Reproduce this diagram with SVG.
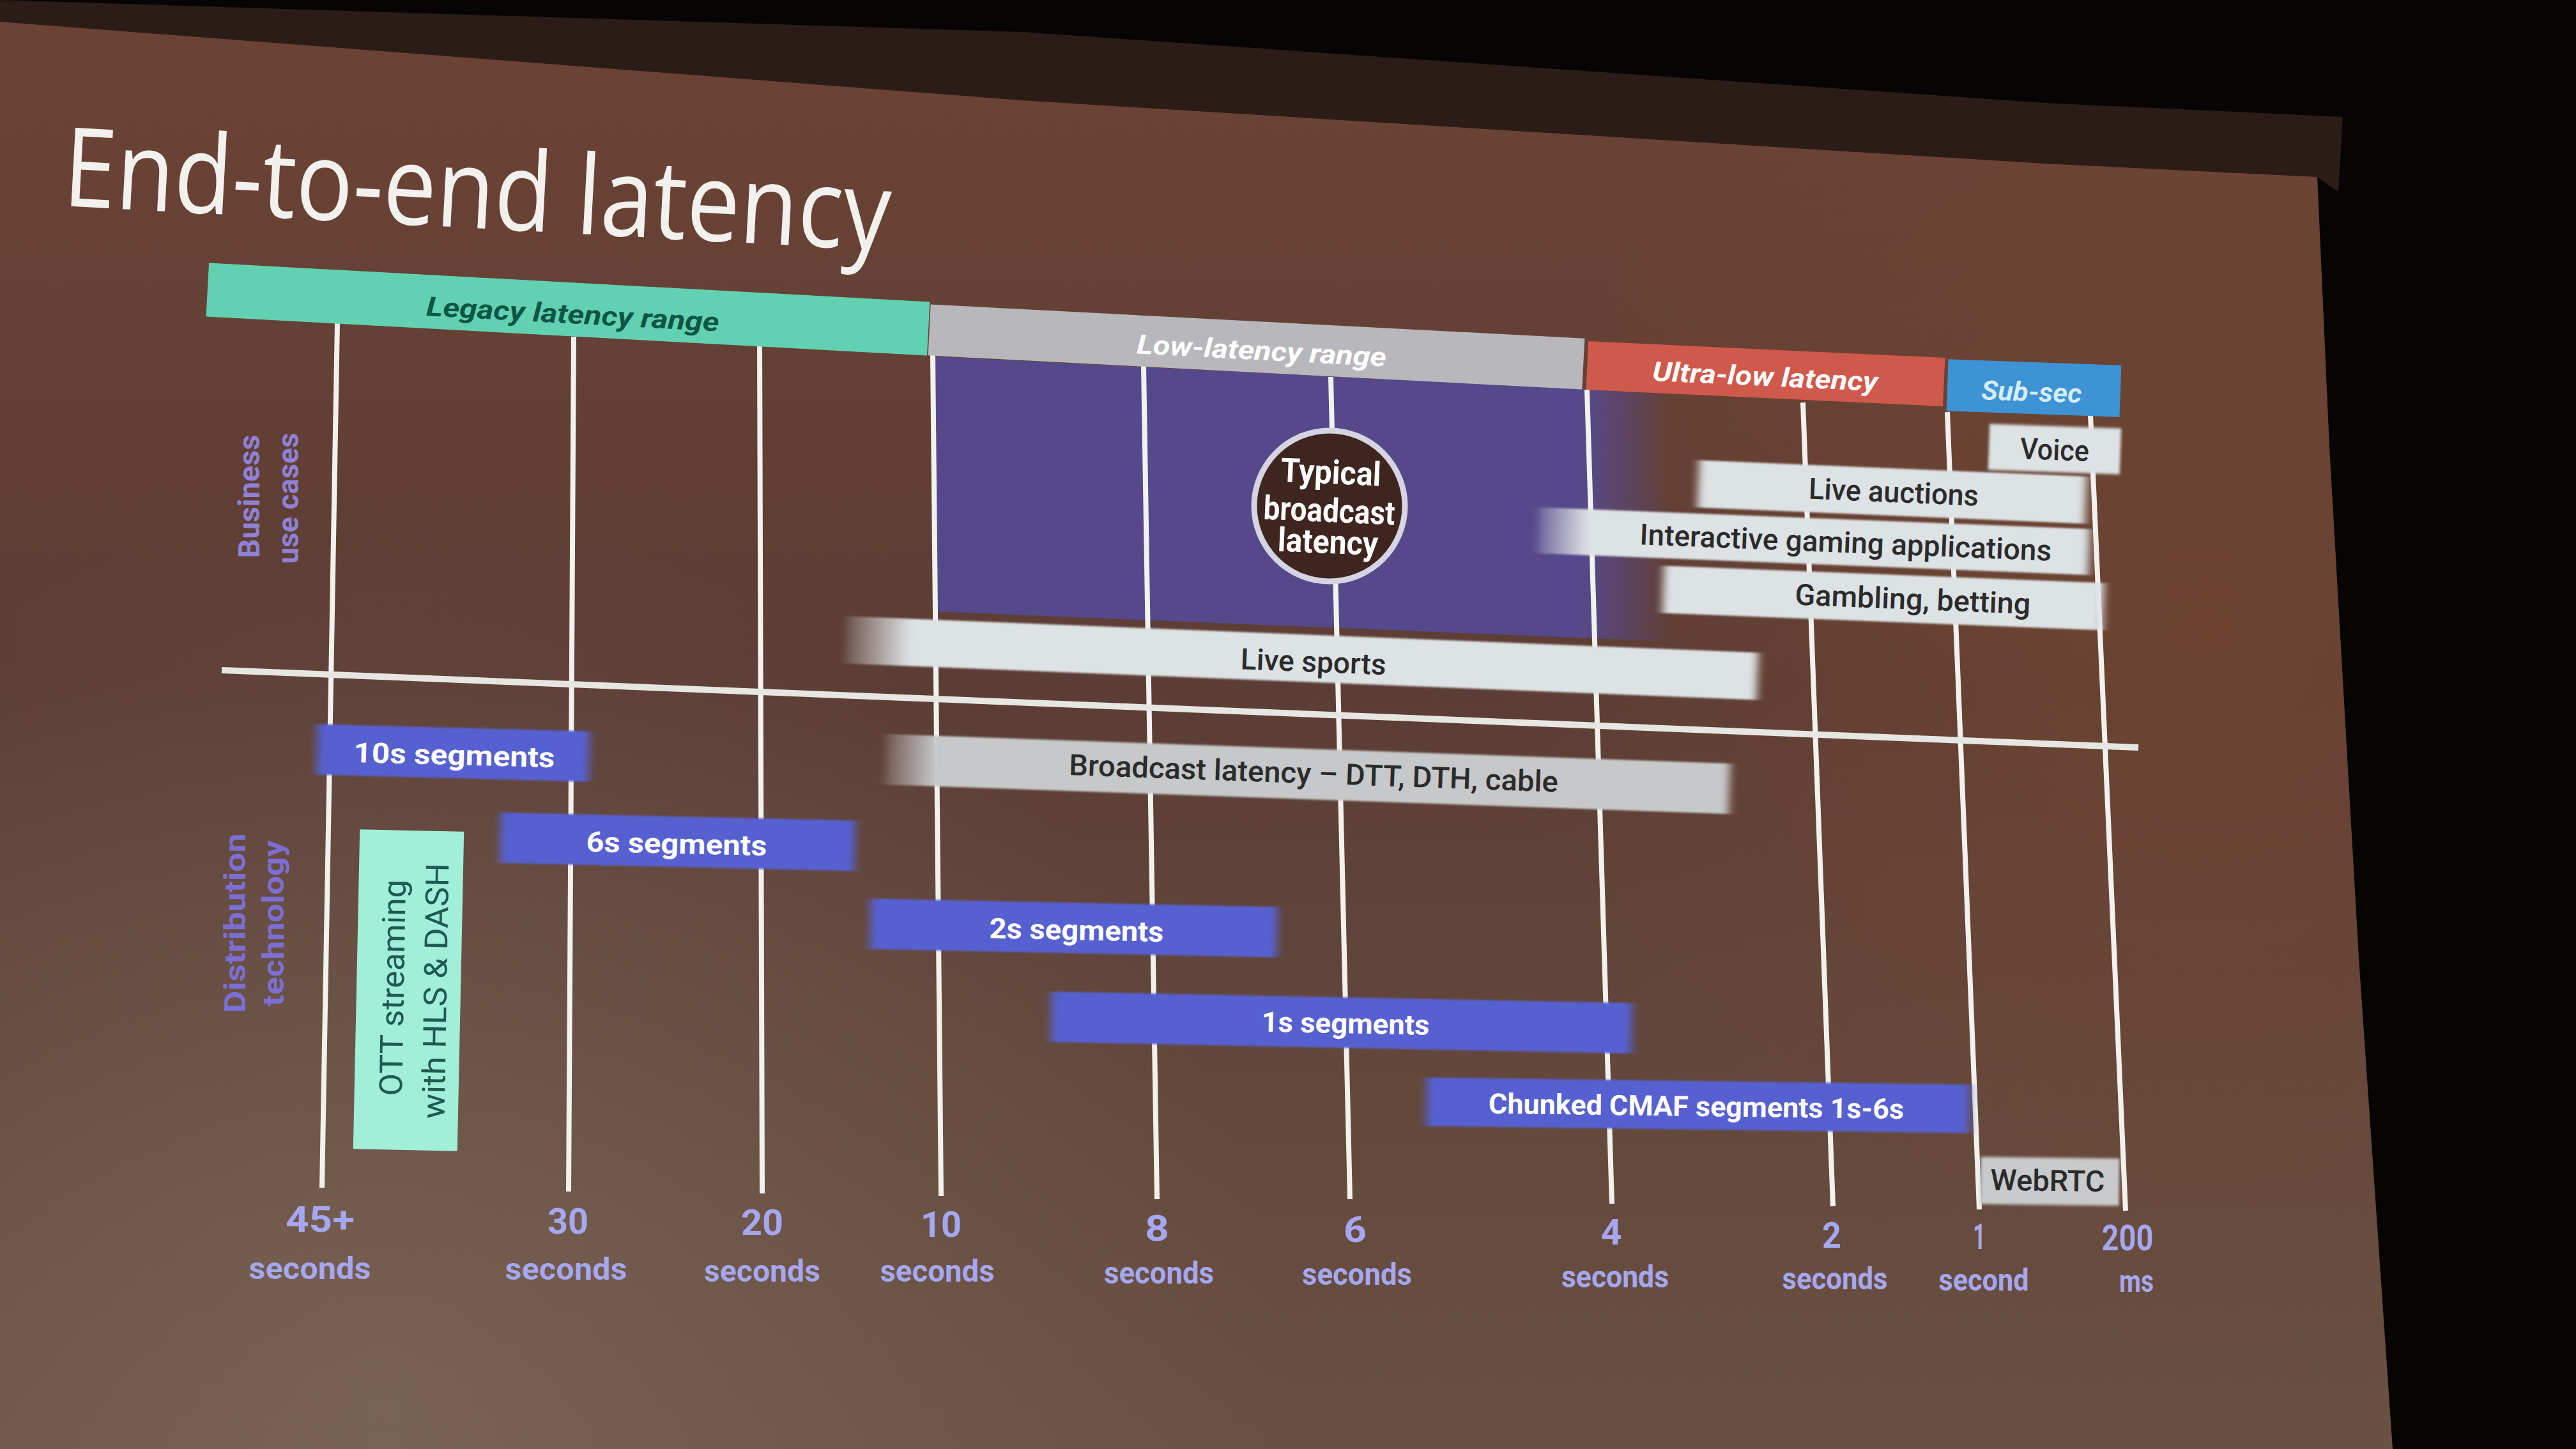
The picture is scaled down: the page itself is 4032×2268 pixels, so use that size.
<svg xmlns="http://www.w3.org/2000/svg" width="4032" height="2268" viewBox="0 0 4032 2268">
<defs>
<linearGradient id="screenG" gradientUnits="userSpaceOnUse" x1="0" y1="100" x2="0" y2="2268">
<stop offset="0" stop-color="#6b4335"/>
<stop offset="0.45" stop-color="#5c3d35"/>
<stop offset="1" stop-color="#6a5142"/>
</linearGradient>
<radialGradient id="glowBL" gradientUnits="userSpaceOnUse" cx="600" cy="2200" r="1400">
<stop offset="0" stop-color="#8a7868" stop-opacity="0.45"/>
<stop offset="1" stop-color="#8a7868" stop-opacity="0"/>
</radialGradient>
<radialGradient id="warmR" gradientUnits="userSpaceOnUse" cx="3450" cy="1000" r="1100">
<stop offset="0" stop-color="#7c4a2e" stop-opacity="0.5"/>
<stop offset="1" stop-color="#7c4a2e" stop-opacity="0"/>
</radialGradient>
<linearGradient id="purpleG" gradientUnits="userSpaceOnUse" x1="1460" y1="0" x2="2615" y2="0">
<stop offset="0" stop-color="#56498b"/>
<stop offset="0.88" stop-color="#56498b"/>
<stop offset="1" stop-color="#56498b" stop-opacity="0"/>
</linearGradient>
<linearGradient id="fadeLight" x1="0" y1="0" x2="1" y2="0">
<stop offset="0" stop-color="#dde2e5" stop-opacity="0.15"/>
<stop offset="0.07" stop-color="#dde2e5" stop-opacity="1"/>
<stop offset="1" stop-color="#dde2e5" stop-opacity="1"/>
</linearGradient>
<linearGradient id="fadeLightI" x1="0" y1="0" x2="1" y2="0">
<stop offset="0" stop-color="#dde2e5" stop-opacity="0.2"/>
<stop offset="0.09" stop-color="#dde2e5" stop-opacity="1"/>
<stop offset="1" stop-color="#dde2e5" stop-opacity="1"/>
</linearGradient>
<linearGradient id="fadeGray" x1="0" y1="0" x2="1" y2="0">
<stop offset="0" stop-color="#c6c8c9" stop-opacity="0.2"/>
<stop offset="0.06" stop-color="#c6c8c9" stop-opacity="1"/>
<stop offset="1" stop-color="#c6c8c9" stop-opacity="1"/>
</linearGradient>
<filter id="soft" x="-15%" y="-30%" width="130%" height="160%">
<feGaussianBlur stdDeviation="7 1.5"/>
</filter>
<filter id="soft2" x="-5%" y="-30%" width="110%" height="160%">
<feGaussianBlur stdDeviation="2"/>
</filter>
</defs>
<style>
.grid{stroke:#f1f1ee;stroke-width:8;fill:none}
.divider{stroke:#e6e6e2;stroke-width:10;fill:none}
.t{font-family:Roboto,"Liberation Sans",sans-serif;text-anchor:middle}
.hdr{font-style:italic;font-weight:700;font-size:42px}
.bl{fill:#5661d0}
.lt{fill:#dde2e5}
.bt{font-weight:700;font-size:44px;fill:#ffffff}
.dt{font-weight:500;font-size:46px;fill:#2b2b2b}
.num{font-weight:700;font-size:56px;fill:#a5a7f0}
.sec{font-weight:700;font-size:48px;fill:#a5a7f0}
.side{font-weight:700;font-size:46px}
</style>

<!-- photo background -->
<rect x="0" y="0" width="4032" height="2268" fill="#070504"/>
<polygon points="0,0 1600,50 3200,161 3667,183 3660,300 3627,277 3200,256 1600,157 0,34" fill="#2b1c17"/>
<polygon points="0,34 1600,157 3200,256 3627,277 3646,700 3692,1500 3745,2268 0,2268" fill="url(#screenG)"/>
<polygon points="0,34 1600,157 3200,256 3627,277 3646,700 3692,1500 3745,2268 0,2268" fill="url(#glowBL)"/>
<polygon points="0,34 1600,157 3200,256 3627,277 3646,700 3692,1500 3745,2268 0,2268" fill="url(#warmR)"/>

<g id="title">
<text x="97" y="322" transform="rotate(3.1 97 322)" font-family="'Open Sans','Noto Sans',sans-serif" font-weight="400" font-size="172" fill="#f3f1ee" textLength="1296" lengthAdjust="spacingAndGlyphs">End-to-end latency</text>
</g>

<g id="typical-region">
<polygon points="1460,558 2615,616 2615,1004 1460,957" fill="url(#purpleG)"/>
</g>

<g id="gridlines">
<line class="grid" x1="528" y1="506" x2="504" y2="1859"/>
<line class="grid" x1="898" y1="527" x2="890" y2="1865"/>
<line class="grid" x1="1189" y1="540" x2="1193" y2="1868"/>
<line class="grid" x1="1460" y1="556" x2="1473" y2="1872"/>
<line class="grid" x1="1790" y1="573" x2="1811" y2="1877"/>
<line class="grid" x1="2083" y1="590" x2="2113" y2="1877"/>
<line class="grid" x1="2484" y1="610" x2="2523" y2="1884"/>
<line class="grid" x1="2822" y1="630" x2="2869" y2="1888"/>
<line class="grid" x1="3048" y1="645" x2="3098" y2="1893"/>
<line class="grid" x1="3272" y1="650" x2="3327" y2="1895"/>
<line class="divider" x1="347" y1="1049" x2="3347" y2="1170"/>
</g>

<g id="legacy-range">
<rect x="324" y="442" width="1130" height="84" fill="#62d1b2" transform="rotate(3.09 889 484)"/>
<text class="t hdr" x="897" y="506" fill="#0e5644" transform="rotate(3.09 889 484)" textLength="459" lengthAdjust="spacingAndGlyphs">Legacy latency range</text>
</g>
<g id="low-latency-range">
<rect x="1454" y="503" width="1025" height="80" fill="#b8b8bc" transform="rotate(2.98 1966 543)"/>
<text class="t hdr" x="1975" y="563" fill="#ffffff" transform="rotate(2.98 1966 543)" textLength="391" lengthAdjust="spacingAndGlyphs">Low-latency range</text>
</g>
<g id="ultra-low-latency">
<rect x="2484" y="547" width="559" height="76" fill="#cf594b" transform="rotate(2.66 2763 585)"/>
<text class="t hdr" x="2763" y="604" fill="#ffffff" transform="rotate(2.66 2763 585)" textLength="353" lengthAdjust="spacingAndGlyphs">Ultra-low latency</text>
</g>
<g id="sub-sec">
<rect x="3048" y="567" width="271" height="81" fill="#3d93d3" transform="rotate(2 3183 607)"/>
<text class="t hdr" x="3180" y="628" fill="#d6ecfb" transform="rotate(2 3183 607)" textLength="157" lengthAdjust="spacingAndGlyphs">Sub-sec</text>
</g>

<g id="typical-broadcast-latency">
<circle cx="2081" cy="792" r="118" fill="#3f2520" stroke="#d6d3e2" stroke-width="9"/>
<g transform="rotate(2.5 2081 792)">
<text class="t" x="2081" y="757" font-weight="700" font-size="52" fill="#ffffff" textLength="157" lengthAdjust="spacingAndGlyphs">Typical</text>
<text class="t" x="2081" y="817" font-weight="700" font-size="52" fill="#ffffff" textLength="206" lengthAdjust="spacingAndGlyphs">broadcast</text>
<text class="t" x="2081" y="866" font-weight="700" font-size="52" fill="#ffffff" textLength="157" lengthAdjust="spacingAndGlyphs">latency</text>
</g>
</g>

<g id="voice">
<rect class="lt" x="3113" y="667" width="206" height="72" filter="url(#soft2)" transform="rotate(2 3216 703)"/>
<text class="t dt" x="3216" y="720" transform="rotate(2 3216 703)" textLength="108" lengthAdjust="spacingAndGlyphs">Voice</text>
</g>
<g id="live-auctions">
<rect class="lt" x="2658" y="733" width="607" height="74" filter="url(#soft)" transform="rotate(2.4 2961 770)"/>
<text class="t dt" x="2964" y="786" transform="rotate(2.4 2961 770)" textLength="266" lengthAdjust="spacingAndGlyphs">Live auctions</text>
</g>
<g id="interactive-gaming">
<rect x="2408" y="811" width="862" height="72" fill="url(#fadeLightI)" filter="url(#soft)" transform="rotate(2.26 2839 847)"/>
<text class="t dt" x="2889" y="863" transform="rotate(2.26 2839 847)" textLength="645" lengthAdjust="spacingAndGlyphs">Interactive gaming applications</text>
</g>
<g id="gambling-betting">
<rect class="lt" x="2603" y="899" width="689" height="74" filter="url(#soft)" transform="rotate(2.24 2948 936)"/>
<text class="t dt" x="2994" y="952" transform="rotate(2.24 2948 936)" textLength="369" lengthAdjust="spacingAndGlyphs">Gambling, betting</text>
</g>
<g id="live-sports">
<rect x="1324" y="993" width="1427" height="74" fill="url(#fadeLight)" filter="url(#soft)" transform="rotate(2.29 2037 1030)"/>
<text class="t dt" x="2056" y="1051" transform="rotate(2.29 2037 1030)" textLength="228" lengthAdjust="spacingAndGlyphs">Live sports</text>
</g>

<g id="business-use-cases-label">
<text class="t side" fill="#8e81d6" transform="translate(390 777) rotate(-90)" x="0" y="16" textLength="193" lengthAdjust="spacingAndGlyphs">Business</text>
<text class="t side" fill="#8e81d6" transform="translate(455 780) rotate(-90)" x="0" y="12" textLength="205" lengthAdjust="spacingAndGlyphs">use cases</text>
</g>
<g id="distribution-technology-label">
<text class="t side" fill="#7b6fd3" transform="translate(367 1445) rotate(-90)" x="0" y="17" textLength="281" lengthAdjust="spacingAndGlyphs">Distribution</text>
<text class="t side" fill="#7b6fd3" transform="translate(434 1445) rotate(-90)" x="0" y="10" textLength="260" lengthAdjust="spacingAndGlyphs">technology</text>
</g>

<g id="broadcast-latency">
<rect x="1386" y="1172" width="1321" height="79" fill="url(#fadeGray)" filter="url(#soft)" transform="rotate(2 2046 1211.5)"/>
<text class="t dt" x="2056" y="1226" transform="rotate(2 2046 1211.5)" textLength="766" lengthAdjust="spacingAndGlyphs">Broadcast latency – DTT, DTH, cable</text>
</g>
<g id="seg-10s">
<rect class="bl" x="496" y="1139" width="426" height="79" filter="url(#soft)" transform="rotate(1.5 709 1178.5)"/>
<text class="t bt" x="711" y="1197" transform="rotate(1.5 709 1178.5)" textLength="315" lengthAdjust="spacingAndGlyphs">10s segments</text>
</g>
<g id="seg-6s">
<rect class="bl" x="783" y="1278" width="555" height="79" filter="url(#soft)" transform="rotate(1.3 1060 1318)"/>
<text class="t bt" x="1059" y="1336" transform="rotate(1.3 1060 1318)" textLength="283" lengthAdjust="spacingAndGlyphs">6s segments</text>
</g>
<g id="seg-2s">
<rect class="bl" x="1362" y="1413" width="637" height="79" filter="url(#soft)" transform="rotate(1.17 1680 1453)"/>
<text class="t bt" x="1685" y="1471" transform="rotate(1.17 1680 1453)" textLength="273" lengthAdjust="spacingAndGlyphs">2s segments</text>
</g>
<g id="seg-1s">
<rect class="bl" x="1645" y="1561" width="909" height="79" filter="url(#soft)" transform="rotate(1.13 2100 1600.5)"/>
<text class="t bt" x="2106" y="1617" transform="rotate(1.13 2100 1600.5)" textLength="263" lengthAdjust="spacingAndGlyphs">1s segments</text>
</g>
<g id="chunked-cmaf">
<rect class="bl" x="2233" y="1692" width="850" height="76" filter="url(#soft)" transform="rotate(0.75 2658 1730)"/>
<text class="t bt" x="2655" y="1747" transform="rotate(0.75 2658 1730)" textLength="650" lengthAdjust="spacingAndGlyphs">Chunked CMAF segments 1s-6s</text>
</g>
<g id="webrtc">
<rect x="3100" y="1812" width="217" height="74" fill="#c8cacb" filter="url(#soft2)" transform="rotate(0.7 3208 1849)"/>
<text class="t dt" x="3205" y="1864" transform="rotate(0.7 3208 1849)" textLength="179" lengthAdjust="spacingAndGlyphs">WebRTC</text>
</g>
<g id="ott-streaming">
<rect x="558" y="1300" width="163" height="500" fill="#a2efd9" transform="rotate(1.2 639.5 1550)"/>
<text class="t" font-family="'Open Sans','DejaVu Sans',sans-serif" font-size="50" fill="#1f5a50" transform="translate(618 1546) rotate(-89)" x="0" y="14" textLength="339" lengthAdjust="spacingAndGlyphs">OTT streaming</text>
<text class="t" font-family="'Open Sans','DejaVu Sans',sans-serif" font-size="50" fill="#1f5a50" transform="translate(685 1551) rotate(-89)" x="0" y="14" textLength="400" lengthAdjust="spacingAndGlyphs">with HLS &amp; DASH</text>
</g>

<g id="axis-labels">
<g id="tick-45">
<text class="t num" x="501" y="1928" textLength="108" lengthAdjust="spacingAndGlyphs">45+</text>
<text class="t sec" x="485" y="2002" textLength="191" lengthAdjust="spacingAndGlyphs">seconds</text>
</g>
<g id="tick-30">
<text class="t num" x="889" y="1931" textLength="64" lengthAdjust="spacingAndGlyphs">30</text>
<text class="t sec" x="886" y="2003" textLength="191" lengthAdjust="spacingAndGlyphs">seconds</text>
</g>
<g id="tick-20">
<text class="t num" x="1193" y="1933" textLength="66" lengthAdjust="spacingAndGlyphs">20</text>
<text class="t sec" x="1193" y="2006" textLength="182" lengthAdjust="spacingAndGlyphs">seconds</text>
</g>
<g id="tick-10">
<text class="t num" x="1473" y="1936" textLength="64" lengthAdjust="spacingAndGlyphs">10</text>
<text class="t sec" x="1467" y="2006" textLength="179" lengthAdjust="spacingAndGlyphs">seconds</text>
</g>
<g id="tick-8">
<text class="t num" x="1811" y="1942" textLength="38" lengthAdjust="spacingAndGlyphs">8</text>
<text class="t sec" x="1814" y="2009" textLength="172" lengthAdjust="spacingAndGlyphs">seconds</text>
</g>
<g id="tick-6">
<text class="t num" x="2121" y="1944" textLength="36" lengthAdjust="spacingAndGlyphs">6</text>
<text class="t sec" x="2124" y="2011" textLength="172" lengthAdjust="spacingAndGlyphs">seconds</text>
</g>
<g id="tick-4">
<text class="t num" x="2522" y="1948" textLength="33" lengthAdjust="spacingAndGlyphs">4</text>
<text class="t sec" x="2528" y="2015" textLength="168" lengthAdjust="spacingAndGlyphs">seconds</text>
</g>
<g id="tick-2">
<text class="t num" x="2867" y="1953" textLength="30" lengthAdjust="spacingAndGlyphs">2</text>
<text class="t sec" x="2872" y="2018" textLength="165" lengthAdjust="spacingAndGlyphs">seconds</text>
</g>
<g id="tick-1">
<text class="t num" x="3098" y="1955" textLength="20" lengthAdjust="spacingAndGlyphs">1</text>
<text class="t sec" x="3105" y="2020" textLength="141" lengthAdjust="spacingAndGlyphs">second</text>
</g>
<g id="tick-200">
<text class="t num" x="3330" y="1957" textLength="81" lengthAdjust="spacingAndGlyphs">200</text>
<text class="t sec" x="3344" y="2022" textLength="54" lengthAdjust="spacingAndGlyphs">ms</text>
</g>
</g>
</svg>
